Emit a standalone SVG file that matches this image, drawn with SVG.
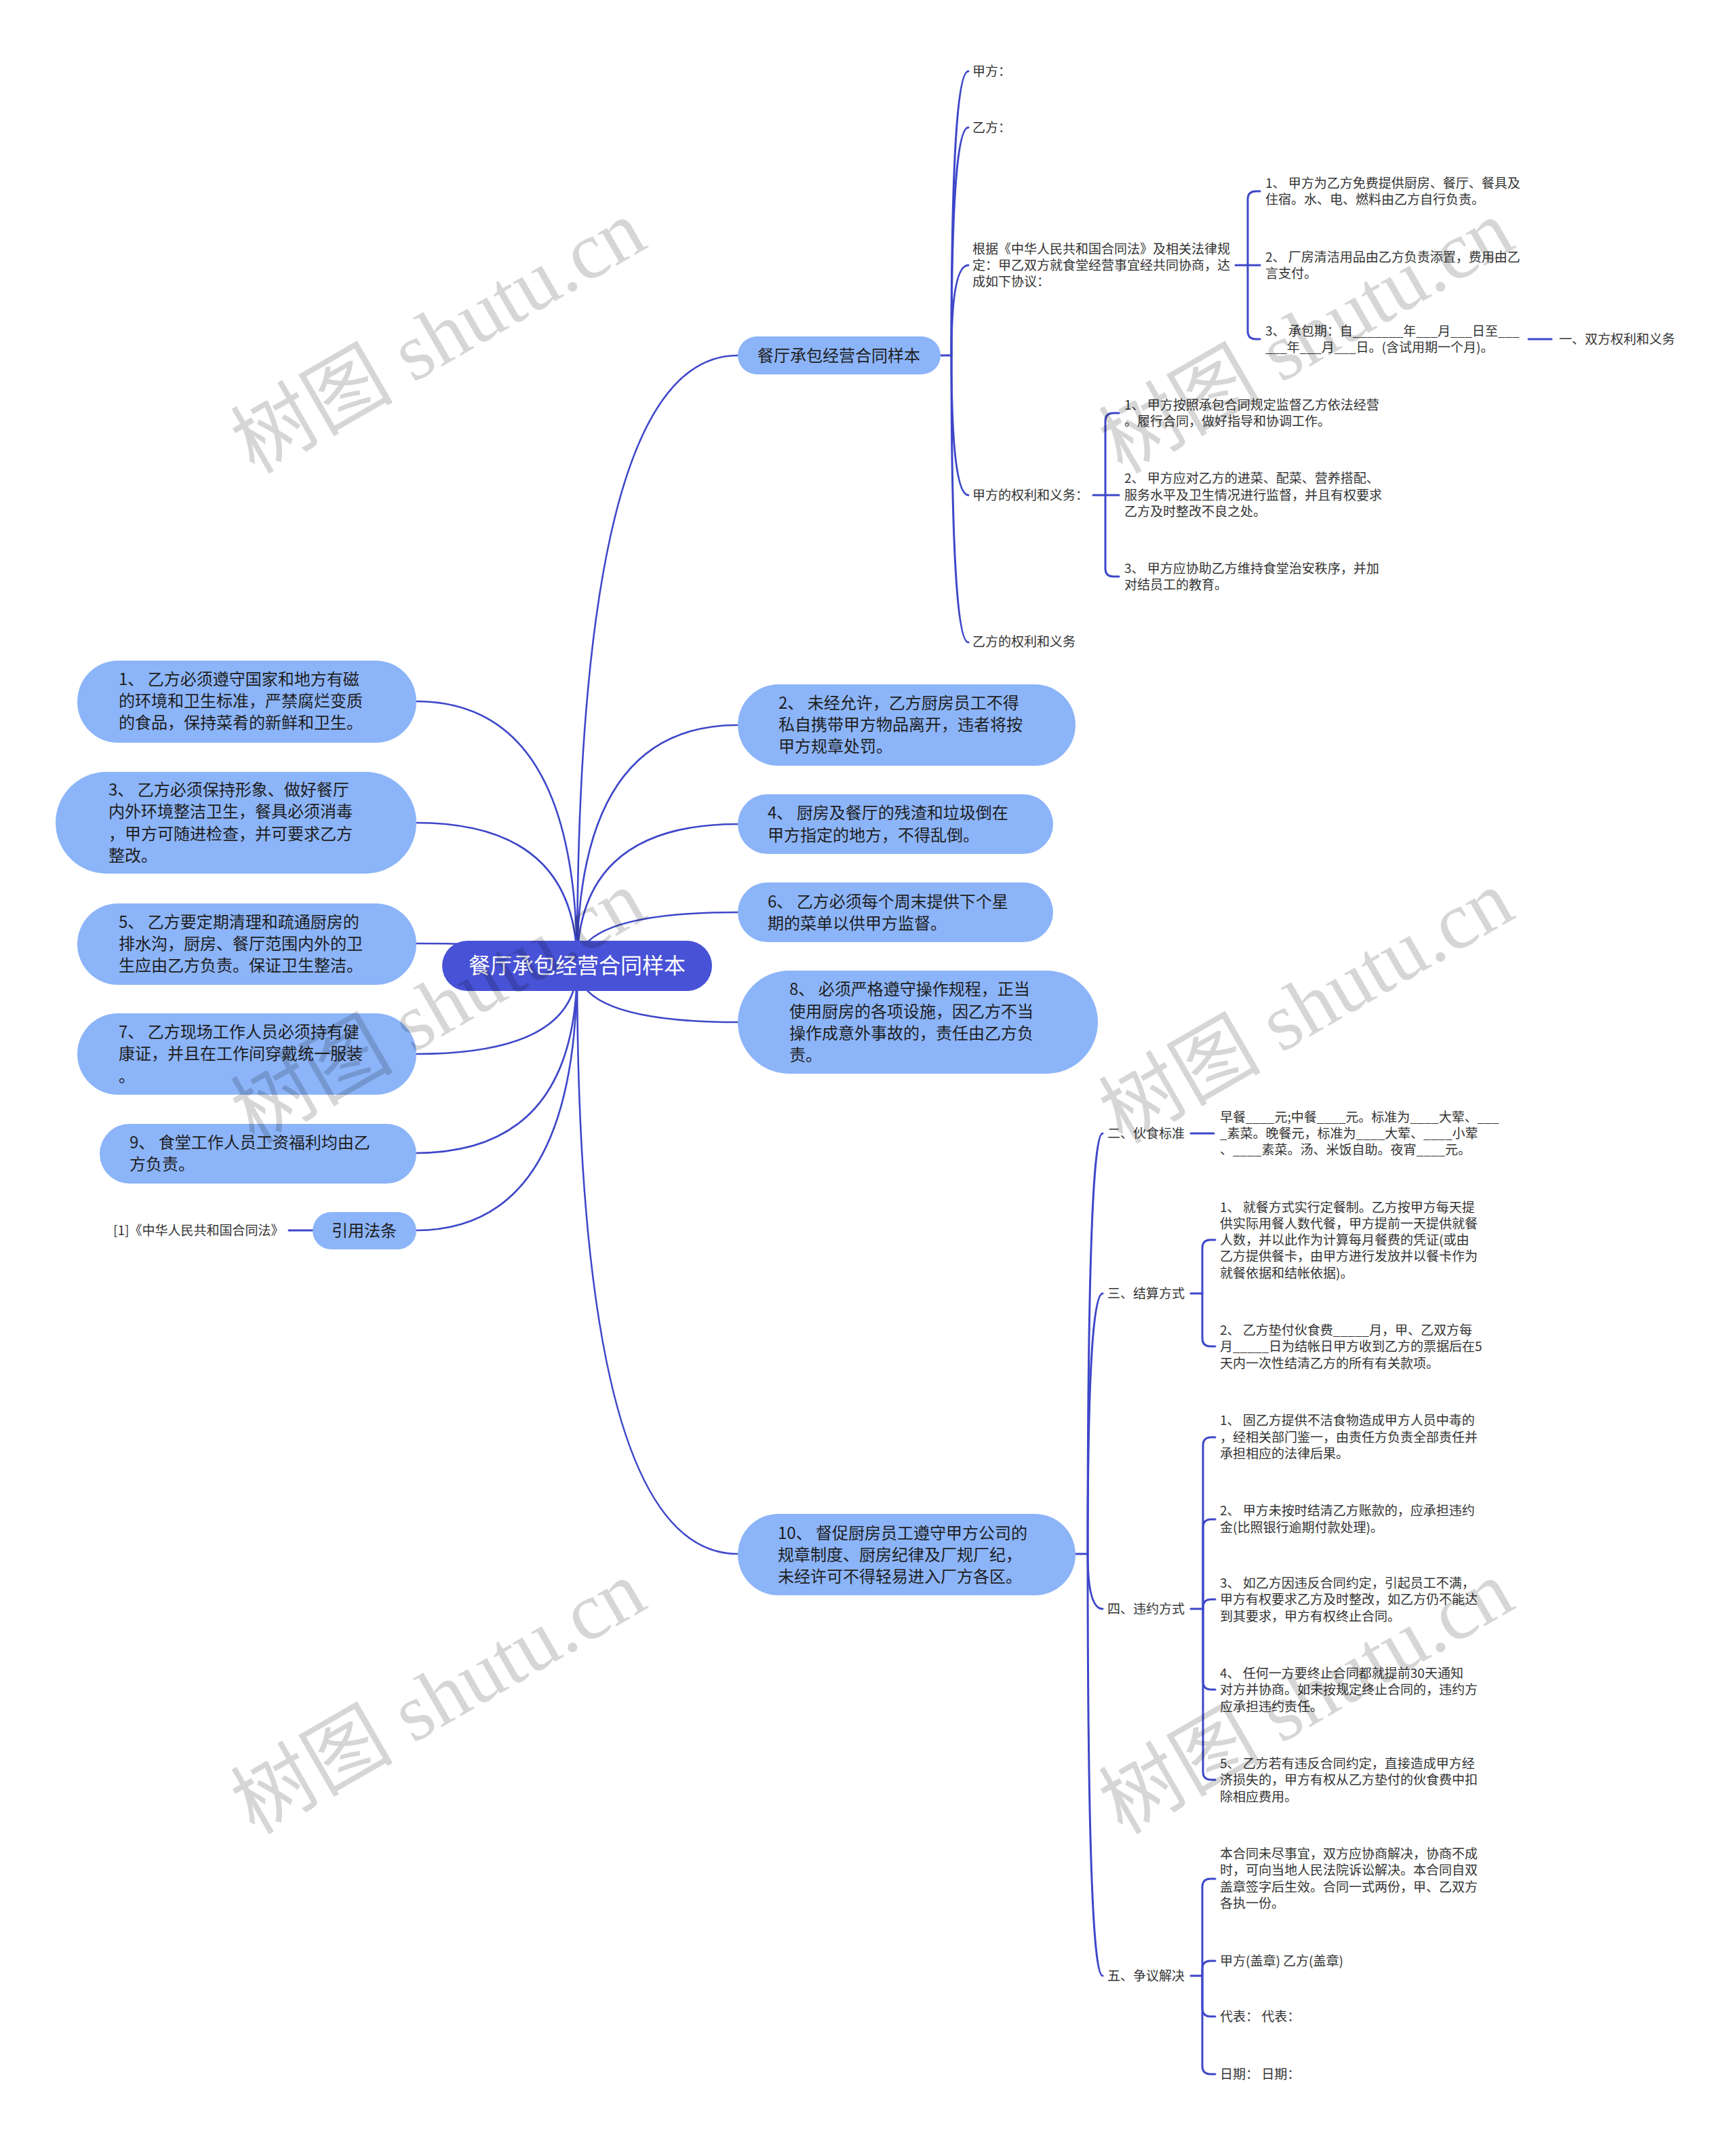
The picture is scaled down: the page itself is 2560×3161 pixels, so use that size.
<svg xmlns="http://www.w3.org/2000/svg" width="2560" height="3161" viewBox="0 0 2560 3161">
<style>
.ln{fill:none;stroke:#3d47c9;stroke-width:2.6;stroke-linecap:round}
.br{fill:none;stroke:#3d47c9;stroke-width:3;stroke-linecap:round}
.c0{fill:#4852d6}
.c1{fill:#8cb4f8}
text{font-family:"Noto Sans CJK SC","Noto Sans",sans-serif}
.t0{font-size:32px;fill:#ffffff;text-anchor:middle}
.tb{font-size:24px;fill:#1e1e1e}
.tm{font-size:24px;fill:#1e1e1e;text-anchor:middle}
.tl{font-size:19px;fill:#333333}
.wm{font-family:"Liberation Serif","Noto Sans CJK SC",serif;font-size:120px;fill:#000000;fill-opacity:0.16}
</style>
<rect width="2560" height="3161" fill="#ffffff"/>
<g id="connectors">
<path class="ln" d="M851 1424 Q851 524 1088 524"/>
<path class="ln" d="M851 1424 Q851 1069 1088 1069"/>
<path class="ln" d="M851 1424 Q851 1215 1088 1215"/>
<path class="ln" d="M851 1424 Q851 1345 1088 1345"/>
<path class="ln" d="M851 1424 Q851 1507 1088 1507"/>
<path class="ln" d="M851 1424 Q851 2291 1088 2291"/>
<path class="ln" d="M851 1424 Q851 1034 613 1034"/>
<path class="ln" d="M851 1424 Q851 1213 613 1213"/>
<path class="ln" d="M851 1424 Q851 1391 613 1391"/>
<path class="ln" d="M851 1424 Q851 1554 613 1554"/>
<path class="ln" d="M851 1424 Q851 1700 613 1700"/>
<path class="ln" d="M851 1424 Q851 1814 613 1814"/>
<path class="br" d="M1387 524 H1403"/>
<path class="br" d="M1403 524 Q1403 105 1428 105"/>
<path class="br" d="M1403 524 Q1403 188 1428 188"/>
<path class="br" d="M1403 524 Q1403 391 1428 391"/>
<path class="br" d="M1403 524 Q1403 730 1428 730"/>
<path class="br" d="M1403 524 Q1403 947 1428 947"/>
<path class="br" d="M1822 391 H1858"/>
<path class="br" d="M1840 391 V294 Q1840 282 1852 282 H1858"/>
<path class="br" d="M1840 391 V488 Q1840 500 1852 500 H1858"/>
<path class="br" d="M2254 500 H2288"/>
<path class="br" d="M1612 730 H1650"/>
<path class="br" d="M1630 730 V621 Q1630 609 1642 609 H1650"/>
<path class="br" d="M1630 730 V838 Q1630 850 1642 850 H1650"/>
<path class="br" d="M1587 2291 H1604"/>
<path class="br" d="M1604 2291 Q1604 1671 1626 1671"/>
<path class="br" d="M1604 2291 Q1604 1907 1626 1907"/>
<path class="br" d="M1604 2291 Q1604 2372 1626 2372"/>
<path class="br" d="M1604 2291 Q1604 2913 1626 2913"/>
<path class="br" d="M1756 1671 H1790"/>
<path class="br" d="M1756 1907 H1773"/>
<path class="br" d="M1773 1907 V1840 Q1773 1828 1785 1828 H1792"/>
<path class="br" d="M1773 1907 V1973 Q1773 1985 1785 1985 H1792"/>
<path class="br" d="M1756 2372 H1774"/>
<path class="br" d="M1774 2372 V2131 Q1774 2119 1786 2119 H1792"/>
<path class="br" d="M1774 2372 V2252 Q1774 2240 1786 2240 H1792"/>
<path class="br" d="M1774 2372 V2370 Q1774 2358 1786 2358 H1792"/>
<path class="br" d="M1774 2372 V2479 Q1774 2491 1786 2491 H1792"/>
<path class="br" d="M1774 2372 V2612 Q1774 2624 1786 2624 H1792"/>
<path class="br" d="M1756 2913 H1773"/>
<path class="br" d="M1773 2913 V2782 Q1773 2770 1785 2770 H1792"/>
<path class="br" d="M1773 2913 V2903 Q1773 2891 1785 2891 H1792"/>
<path class="br" d="M1773 2913 V2961 Q1773 2973 1785 2973 H1792"/>
<path class="br" d="M1773 2913 V3046 Q1773 3058 1785 3058 H1792"/>
<path class="br" d="M426 1814 H461"/>
</g>
<g id="root">
<rect class="c0" x="652" y="1387" width="398" height="74" rx="37"/>
<text class="t0" x="851" y="1435">餐厅承包经营合同样本</text>
</g>
<g id="n-sample">
<rect class="c1" x="1088" y="496" width="299" height="56" rx="28"/>
<text class="tm" x="1237" y="533">餐厅承包经营合同样本</text>
</g>
<g id="n-jia"><text class="tl" x="1434" y="112">甲方：</text></g>
<g id="n-yi"><text class="tl" x="1434" y="195">乙方：</text></g>
<g id="n-basis">
<text class="tl" x="1434" y="374">根据《中华人民共和国合同法》及相关法律规</text>
<text class="tl" x="1434" y="398">定：甲乙双方就食堂经营事宜经共同协商，达</text>
<text class="tl" x="1434" y="422">成如下协议：</text>
</g>
<g id="n-basis-1">
<text class="tl" x="1866" y="277">1、 甲方为乙方免费提供厨房、餐厅、餐具及</text>
<text class="tl" x="1866" y="301">住宿。水、电、燃料由乙方自行负责。</text>
</g>
<g id="n-basis-2">
<text class="tl" x="1866" y="386">2、 厂房清洁用品由乙方负责添置，费用由乙</text>
<text class="tl" x="1866" y="410">言支付。</text>
</g>
<g id="n-basis-3">
<text class="tl" x="1866" y="495">3、 承包期：自_______年___月___日至___</text>
<text class="tl" x="1866" y="519">___年___月___日。(含试用期一个月)。</text>
</g>
<g id="n-rights"><text class="tl" x="2299" y="507">一、双方权利和义务</text></g>
<g id="n-jia-rights"><text class="tl" x="1434" y="737">甲方的权利和义务：</text></g>
<g id="n-jr-1">
<text class="tl" x="1658" y="604">1、 甲方按照承包合同规定监督乙方依法经营</text>
<text class="tl" x="1658" y="628">。履行合同，做好指导和协调工作。</text>
</g>
<g id="n-jr-2">
<text class="tl" x="1658" y="712">2、 甲方应对乙方的进菜、配菜、营养搭配、</text>
<text class="tl" x="1658" y="737">服务水平及卫生情况进行监督，并且有权要求</text>
<text class="tl" x="1658" y="761">乙方及时整改不良之处。</text>
</g>
<g id="n-jr-3">
<text class="tl" x="1658" y="845">3、 甲方应协助乙方维持食堂治安秩序，并加</text>
<text class="tl" x="1658" y="869">对结员工的教育。</text>
</g>
<g id="n-yi-rights"><text class="tl" x="1434" y="953">乙方的权利和义务</text></g>
<g id="n2">
<rect class="c1" x="1088" y="1009" width="498" height="120" rx="60"/>
<text class="tb" x="1148" y="1045">2、 未经允许，乙方厨房员工不得</text>
<text class="tb" x="1148" y="1077">私自携带甲方物品离开，违者将按</text>
<text class="tb" x="1148" y="1109">甲方规章处罚。</text>
</g>
<g id="n4">
<rect class="c1" x="1088" y="1171" width="465" height="88" rx="44"/>
<text class="tb" x="1132" y="1207">4、 厨房及餐厅的残渣和垃圾倒在</text>
<text class="tb" x="1132" y="1240">甲方指定的地方，不得乱倒。</text>
</g>
<g id="n6">
<rect class="c1" x="1088" y="1301" width="465" height="88" rx="44"/>
<text class="tb" x="1132" y="1338">6、 乙方必须每个周末提供下个星</text>
<text class="tb" x="1132" y="1370">期的菜单以供甲方监督。</text>
</g>
<g id="n8">
<rect class="c1" x="1088" y="1431" width="531" height="152" rx="76"/>
<text class="tb" x="1164" y="1467">8、 必须严格遵守操作规程，正当</text>
<text class="tb" x="1164" y="1500">使用厨房的各项设施，因乙方不当</text>
<text class="tb" x="1164" y="1532">操作成意外事故的，责任由乙方负</text>
<text class="tb" x="1164" y="1564">责。</text>
</g>
<g id="n10">
<rect class="c1" x="1088" y="2232" width="498" height="120" rx="60"/>
<text class="tb" x="1147" y="2269">10、 督促厨房员工遵守甲方公司的</text>
<text class="tb" x="1147" y="2301">规章制度、厨房纪律及厂规厂纪，</text>
<text class="tb" x="1147" y="2333">未经许可不得轻易进入厂方各区。</text>
</g>
<g id="n-food"><text class="tl" x="1633" y="1678">二、伙食标准</text></g>
<g id="n-food-1">
<text class="tl" x="1799" y="1654">早餐____元;中餐____元。标准为____大荤、___</text>
<text class="tl" x="1799" y="1678">_素菜。晚餐元，标准为____大荤、____小荤</text>
<text class="tl" x="1799" y="1702">、____素菜。汤、米饭自助。夜宵____元。</text>
</g>
<g id="n-settle"><text class="tl" x="1633" y="1914">三、结算方式</text></g>
<g id="n-settle-1">
<text class="tl" x="1799" y="1787">1、 就餐方式实行定餐制。乙方按甲方每天提</text>
<text class="tl" x="1799" y="1811">供实际用餐人数代餐，甲方提前一天提供就餐</text>
<text class="tl" x="1799" y="1835">人数，并以此作为计算每月餐费的凭证(或由</text>
<text class="tl" x="1799" y="1859">乙方提供餐卡，由甲方进行发放并以餐卡作为</text>
<text class="tl" x="1799" y="1884">就餐依据和结帐依据)。</text>
</g>
<g id="n-settle-2">
<text class="tl" x="1799" y="1968">2、 乙方垫付伙食费_____月，甲、乙双方每</text>
<text class="tl" x="1799" y="1992">月_____日为结帐日甲方收到乙方的票据后在5</text>
<text class="tl" x="1799" y="2017">天内一次性结清乙方的所有有关款项。</text>
</g>
<g id="n-breach"><text class="tl" x="1633" y="2379">四、违约方式</text></g>
<g id="n-breach-1">
<text class="tl" x="1799" y="2101">1、 固乙方提供不洁食物造成甲方人员中毒的</text>
<text class="tl" x="1799" y="2126">，经相关部门鉴一，由责任方负责全部责任并</text>
<text class="tl" x="1799" y="2150">承担相应的法律后果。</text>
</g>
<g id="n-breach-2">
<text class="tl" x="1799" y="2234">2、 甲方未按时结清乙方账款的，应承担违约</text>
<text class="tl" x="1799" y="2259">金(比照银行逾期付款处理)。</text>
</g>
<g id="n-breach-3">
<text class="tl" x="1799" y="2341">3、 如乙方因违反合同约定，引起员工不满，</text>
<text class="tl" x="1799" y="2365">甲方有权要求乙方及时整改，如乙方仍不能达</text>
<text class="tl" x="1799" y="2390">到其要求，甲方有权终止合同。</text>
</g>
<g id="n-breach-4">
<text class="tl" x="1799" y="2474">4、 任何一方要终止合同都就提前30天通知</text>
<text class="tl" x="1799" y="2498">对方并协商。如未按规定终止合同的，违约方</text>
<text class="tl" x="1799" y="2523">应承担违约责任。</text>
</g>
<g id="n-breach-5">
<text class="tl" x="1799" y="2607">5、 乙方若有违反合同约定，直接造成甲方经</text>
<text class="tl" x="1799" y="2631">济损失的，甲方有权从乙方垫付的伙食费中扣</text>
<text class="tl" x="1799" y="2656">除相应费用。</text>
</g>
<g id="n-dispute"><text class="tl" x="1633" y="2920">五、争议解决</text></g>
<g id="n-dispute-1">
<text class="tl" x="1799" y="2740">本合同未尽事宜，双方应协商解决，协商不成</text>
<text class="tl" x="1799" y="2764">时，可向当地人民法院诉讼解决。本合同自双</text>
<text class="tl" x="1799" y="2789">盖章签字后生效。合同一式两份，甲、乙双方</text>
<text class="tl" x="1799" y="2813">各执一份。</text>
</g>
<g id="n-dispute-2"><text class="tl" x="1799" y="2898">甲方(盖章) 乙方(盖章)</text></g>
<g id="n-dispute-3"><text class="tl" x="1799" y="2980">代表：  代表：</text></g>
<g id="n-dispute-4"><text class="tl" x="1799" y="3065">日期：  日期：</text></g>
<g id="L1">
<rect class="c1" x="114" y="974" width="500" height="121" rx="60"/>
<text class="tb" x="175" y="1010">1、 乙方必须遵守国家和地方有磁</text>
<text class="tb" x="175" y="1042">的环境和卫生标准，严禁腐烂变质</text>
<text class="tb" x="175" y="1074">的食品，保持菜肴的新鲜和卫生。</text>
</g>
<g id="L3">
<rect class="c1" x="82" y="1138" width="532" height="150" rx="75"/>
<text class="tb" x="160" y="1173">3、 乙方必须保持形象、做好餐厅</text>
<text class="tb" x="160" y="1205">内外环境整洁卫生，餐具必须消毒</text>
<text class="tb" x="160" y="1238">，甲方可随进检查，并可要求乙方</text>
<text class="tb" x="160" y="1270">整改。</text>
</g>
<g id="L5">
<rect class="c1" x="114" y="1332" width="500" height="120" rx="60"/>
<text class="tb" x="175" y="1368">5、 乙方要定期清理和疏通厨房的</text>
<text class="tb" x="175" y="1400">排水沟，厨房、餐厅范围内外的卫</text>
<text class="tb" x="175" y="1432">生应由乙方负责。保证卫生整洁。</text>
</g>
<g id="L7">
<rect class="c1" x="114" y="1494" width="500" height="120" rx="60"/>
<text class="tb" x="175" y="1530">7、 乙方现场工作人员必须持有健</text>
<text class="tb" x="175" y="1562">康证，并且在工作间穿戴统一服装</text>
<text class="tb" x="175" y="1595">。</text>
</g>
<g id="L9">
<rect class="c1" x="147" y="1657" width="467" height="88" rx="44"/>
<text class="tb" x="191" y="1693">9、 食堂工作人员工资福利均由乙</text>
<text class="tb" x="191" y="1725">方负责。</text>
</g>
<g id="n-cite">
<rect class="c1" x="461" y="1787" width="153" height="55" rx="27.5"/>
<text class="tm" x="537" y="1823">引用法条</text>
</g>
<g id="n-cite-1"><text class="tl" x="167" y="1821">[1]《中华人民共和国合同法》</text></g>
<g id="watermarks">
<text class="wm" transform="translate(375 700) rotate(-30)">树图 shutu.cn</text>
<text class="wm" transform="translate(1655 700) rotate(-30)">树图 shutu.cn</text>
<text class="wm" transform="translate(375 1688) rotate(-30)">树图 shutu.cn</text>
<text class="wm" transform="translate(1655 1688) rotate(-30)">树图 shutu.cn</text>
<text class="wm" transform="translate(375 2706) rotate(-30)">树图 shutu.cn</text>
<text class="wm" transform="translate(1655 2706) rotate(-30)">树图 shutu.cn</text>
</g>
</svg>
